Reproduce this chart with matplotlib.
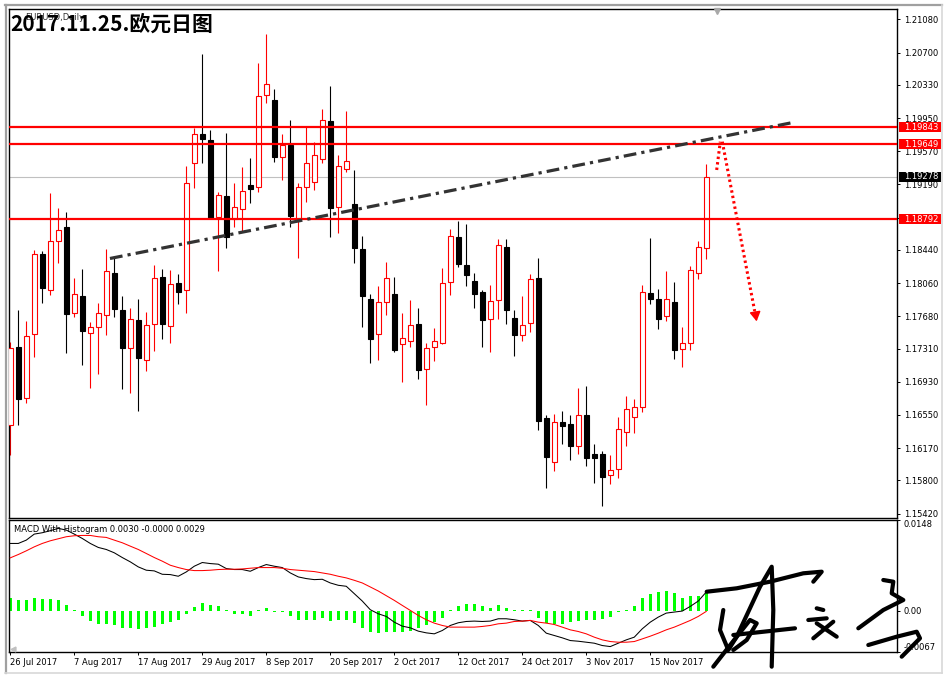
import matplotlib.pyplot as plt
import numpy as np
from matplotlib.lines import Line2D
from matplotlib.patches import Rectangle

# --- 1. 数据 ---

date_labels = ['26 Jul 2017', '7 Aug 2017', '17 Aug 2017', '29 Aug 2017', '8 Sep 2017',
               '20 Sep 2017', '2 Oct 2017', '12 Oct 2017', '24 Oct 2017', '3 Nov 2017',
               '15 Nov 2017']
date_pos = [0, 8, 16, 24, 32, 40, 48, 56, 64, 72, 80]

opens = [1.16435, 1.17325, 1.16740, 1.17477, 1.18390, 1.17978, 1.18542, 1.18703, 1.17714, 1.17912,
         1.17485, 1.17554, 1.17691, 1.18172, 1.17752, 1.17313, 1.17637, 1.17176, 1.17588, 1.18130,
         1.17565, 1.18058, 1.17981, 1.19432, 1.19765, 1.19699, 1.18814, 1.19058, 1.18791, 1.18906,
         1.19184, 1.19158, 1.20211, 1.20158, 1.19501, 1.19642, 1.18791, 1.19158, 1.19222, 1.19478,
         1.19917, 1.18928, 1.19364, 1.18966, 1.18451, 1.17878, 1.17473, 1.17840, 1.17935, 1.17359,
         1.17400, 1.17592, 1.17080, 1.17332, 1.17374, 1.18069, 1.18585, 1.18267, 1.18084, 1.17955,
         1.17645, 1.17863, 1.18470, 1.17657, 1.17462, 1.17600, 1.18119, 1.16511, 1.16014, 1.16466,
         1.16446, 1.16198, 1.16546, 1.16102, 1.16102, 1.15858, 1.15934, 1.16358, 1.16530, 1.16644,
         1.17947, 1.17878, 1.17687, 1.17844, 1.17309, 1.17371, 1.18172, 1.18466]
highs = [1.17389, 1.17752, 1.17626, 1.18439, 1.18428, 1.19092, 1.18917, 1.18875, 1.18115, 1.18222,
         1.17618, 1.17829, 1.18447, 1.18363, 1.17912, 1.17775, 1.17875, 1.17726, 1.18264, 1.18222,
         1.18210, 1.18161, 1.19405, 1.19833, 1.20684, 1.19814, 1.19107, 1.19776, 1.19203, 1.19387,
         1.19490, 1.20578, 1.20914, 1.20284, 1.19765, 1.19928, 1.19203, 1.19860, 1.19673, 1.20051,
         1.20318, 1.19528, 1.20032, 1.19356, 1.18600, 1.17935, 1.18027, 1.18298, 1.18130, 1.17718,
         1.17867, 1.17775, 1.17374, 1.17546, 1.18233, 1.18680, 1.18775, 1.18737, 1.18176, 1.17981,
         1.18038, 1.18565, 1.18565, 1.17752, 1.17912, 1.18164, 1.18348, 1.16549, 1.16561, 1.16595,
         1.16549, 1.16859, 1.16881, 1.16217, 1.16137, 1.16091, 1.16530, 1.16767, 1.16733, 1.18038,
         1.18573, 1.17993, 1.18199, 1.18073, 1.17557, 1.18256, 1.18542, 1.19424]
lows = [1.16091, 1.16435, 1.16690, 1.17210, 1.17829, 1.17920, 1.18287, 1.17256, 1.17675, 1.17122,
        1.16862, 1.17015, 1.17462, 1.17675, 1.16847, 1.16798, 1.16598, 1.17057, 1.17286, 1.17423,
        1.17377, 1.17817, 1.17714, 1.19146, 1.19439, 1.18791, 1.18202, 1.18466, 1.18706, 1.18660,
        1.18981, 1.19107, 1.20127, 1.19451, 1.19241, 1.18706, 1.18351, 1.18993, 1.19127, 1.19432,
        1.18592, 1.18637, 1.19336, 1.18294, 1.17554, 1.17148, 1.17179, 1.17698, 1.17271, 1.16931,
        1.17332, 1.16962, 1.16664, 1.17171, 1.17363, 1.17924, 1.18248, 1.18027, 1.17775, 1.17332,
        1.17271, 1.17652, 1.17592, 1.17225, 1.17400, 1.17503, 1.16377, 1.15716, 1.15911, 1.16217,
        1.16034, 1.16102, 1.15965, 1.15774, 1.15510, 1.15759, 1.15831, 1.16198, 1.16346, 1.16587,
        1.17821, 1.17534, 1.17629, 1.17194, 1.17103, 1.17294, 1.18107, 1.18336]
closes = [1.17313, 1.16729, 1.17454, 1.18390, 1.18000, 1.18542, 1.18665, 1.17703, 1.17932, 1.17515,
          1.17557, 1.17714, 1.18195, 1.17767, 1.17320, 1.17645, 1.17206, 1.17580, 1.18115, 1.17595,
          1.18046, 1.17962, 1.19203, 1.19765, 1.19707, 1.18802, 1.19069, 1.18592, 1.18928, 1.19112,
          1.19141, 1.20200, 1.20337, 1.19508, 1.19642, 1.18829, 1.19158, 1.19432, 1.19524, 1.19928,
          1.18924, 1.19402, 1.19455, 1.18466, 1.17916, 1.17423, 1.17840, 1.18115, 1.17294, 1.17428,
          1.17577, 1.17068, 1.17313, 1.17393, 1.18058, 1.18596, 1.18279, 1.18153, 1.17939, 1.17637,
          1.17852, 1.18493, 1.17755, 1.17469, 1.17577, 1.18104, 1.16484, 1.16072, 1.16472, 1.16427,
          1.16198, 1.16546, 1.16060, 1.16060, 1.15842, 1.15916, 1.16385, 1.16615, 1.16644, 1.17955,
          1.17881, 1.17649, 1.17875, 1.17294, 1.17374, 1.18207, 1.18470, 1.19278]

macd_line = [0.01099, 0.01099, 0.01153, 0.01251, 0.01273, 0.01306, 0.01344, 0.01316, 0.01251, 0.01180,
             0.01099, 0.01034, 0.01001, 0.00947, 0.00870, 0.00800, 0.00718, 0.00664, 0.00653, 0.00598,
             0.00593, 0.00566, 0.00636, 0.00729, 0.00789, 0.00772, 0.00762, 0.00691, 0.00675, 0.00675,
             0.00647, 0.00707, 0.00756, 0.00729, 0.00707, 0.00620, 0.00555, 0.00528, 0.00511, 0.00517,
             0.00457, 0.00419, 0.00403, 0.00283, 0.00163, 0.00022, -0.00044, -0.00087, -0.00180, -0.00245,
             -0.00272, -0.00326, -0.00354, -0.00370, -0.00316, -0.00234, -0.00190, -0.00169, -0.00163, -0.00169,
             -0.00163, -0.00125, -0.00125, -0.00141, -0.00163, -0.00152, -0.00234, -0.00359, -0.00397, -0.00435,
             -0.00479, -0.00490, -0.00506, -0.00522, -0.00560, -0.00577, -0.00522, -0.00468, -0.00424, -0.00288,
             -0.00180, -0.00098, -0.00033, -0.00016, 0.00000, 0.00076, 0.00163, 0.00310]
signal_line = [0.00865, 0.00919, 0.00979, 0.01044, 0.01099, 0.01142, 0.01175, 0.01208, 0.01224, 0.01229,
               0.01229, 0.01208, 0.01197, 0.01153, 0.01110, 0.01055, 0.01001, 0.00936, 0.00870, 0.00811,
               0.00745, 0.00707, 0.00675, 0.00658, 0.00658, 0.00664, 0.00675, 0.00680, 0.00680, 0.00685,
               0.00696, 0.00707, 0.00707, 0.00707, 0.00696, 0.00675, 0.00664, 0.00653, 0.00642, 0.00620,
               0.00598, 0.00566, 0.00539, 0.00500, 0.00457, 0.00392, 0.00326, 0.00250, 0.00174, 0.00092,
               0.00011, -0.00071, -0.00141, -0.00196, -0.00234, -0.00261, -0.00261, -0.00261, -0.00261, -0.00250,
               -0.00234, -0.00207, -0.00196, -0.00169, -0.00163, -0.00152, -0.00180, -0.00196, -0.00218, -0.00261,
               -0.00305, -0.00332, -0.00370, -0.00424, -0.00468, -0.00495, -0.00506, -0.00506, -0.00495, -0.00452,
               -0.00408, -0.00359, -0.00305, -0.00261, -0.00207, -0.00152, -0.00087, -0.00005]
macd_hist = [0.00217, 0.00174, 0.00174, 0.00207, 0.00190, 0.00190, 0.00174, 0.00092, 0.00018, -0.00087,
             -0.00163, -0.00217, -0.00217, -0.00234, -0.00272, -0.00272, -0.00288, -0.00272, -0.00261, -0.00217,
             -0.00179, -0.00152, -0.00043, 0.00065, 0.00125, 0.00092, 0.00076, 0.00018, -0.00043, -0.00043,
             -0.00087, 0.00018, 0.00044, -0.00018, -0.00018, -0.00087, -0.00141, -0.00141, -0.00152, -0.00114,
             -0.00163, -0.00152, -0.00152, -0.00196, -0.00272, -0.00343, -0.00359, -0.00343, -0.00343, -0.00343,
             -0.00316, -0.00272, -0.00234, -0.00180, -0.00109, 0.00022, 0.00076, 0.00109, 0.00109, 0.00076,
             0.00054, 0.00092, 0.00054, 0.00018, 0.00018, 0.00018, -0.00109, -0.00196, -0.00207, -0.00207,
             -0.00180, -0.00163, -0.00152, -0.00141, -0.00125, -0.00098, -0.00018, 0.00022, 0.00076, 0.00218,
             0.00283, 0.00310, 0.00326, 0.00294, 0.00218, 0.00239, 0.00239, 0.00310]

price_ticks = [1.21080, 1.20700, 1.20330, 1.19950, 1.19570, 1.19190, 1.18810, 1.18440,
               1.18060, 1.17680, 1.17310, 1.16930, 1.16550, 1.16170, 1.15800, 1.15420]
levels = [1.19843, 1.19649, 1.18792]   # 红色水平线
last_price = 1.19278
trend_start = (12.46, 1.18342)         # 趋势线 (bar index, price)
trend_end = (97.84, 1.19900)
macd_ticks = [-0.0067, 0.0, 0.0148]
macd_tick_labels = ['-0.0067', '0.00', '0.0148']

# --- 2. 画布 ---

W, H = 948, 680
plt.rcParams['font.family'] = ['DejaVu Sans']
fig = plt.figure(figsize=(W / 100, H / 100), dpi=100)
fig.patch.set_facecolor('white')

x = np.arange(len(opens))
xlim = (-0.16, 110.84)

ax = fig.add_axes([9 / W, 1 - 517.5 / H, 888 / W, 508.5 / H])
ax2 = fig.add_axes([9 / W, 1 - 652.3 / H, 888 / W, 132.3 / H])

for a in (ax, ax2):
    a.set_xlim(*xlim)
    for s in a.spines.values():
        s.set_linewidth(1.0)
        s.set_color('black')
    a.yaxis.tick_right()
    a.tick_params(axis='y', direction='out', length=2.2, width=0.7, pad=2.6,
                  labelsize=6, colors='black')

# --- 3. K线图 ---

o = np.array(opens)
c = np.array(closes)
up = c >= o
body_w = 0.56

ax.vlines(x[up], np.array(lows)[up], np.array(highs)[up], color='red', lw=0.8, zorder=2)
ax.vlines(x[~up], np.array(lows)[~up], np.array(highs)[~up], color='black', lw=0.8, zorder=2)
ax.bar(x[up], (c - o)[up], bottom=o[up], width=body_w, facecolor='white',
       edgecolor='red', linewidth=0.8, zorder=3)
ax.bar(x[~up], (o - c)[~up], bottom=c[~up], width=body_w, facecolor='black',
       edgecolor='black', linewidth=0.8, zorder=3)

ax.set_ylim(1.15375, 1.21200)
ax.set_xticks([])
ax.set_yticks(price_ticks)
ax.set_yticklabels([f'{v:.5f}' for v in price_ticks])

# 当前价格线
ax.axhline(last_price, color='#c0c0c0', lw=0.8, zorder=1)

# 支撑/阻力线
for lv in levels:
    ax.axhline(lv, color='red', lw=1.6, zorder=4)

# 趋势线
ax.plot([trend_start[0], trend_end[0]], [trend_start[1], trend_end[1]],
        color='#333333', lw=2.3, dashes=(4, 1.6, 1, 1.6), zorder=5, clip_on=False)

# 红色虚线箭头
ax.plot([88.3, 88.75], [1.19356, 1.19680], color='red', lw=2.2,
        linestyle=(0, (0.8, 1.0)), zorder=6)
ax.plot([89.0, 93.05], [1.19680, 1.17740], color='red', lw=2.2,
        linestyle=(0, (0.8, 1.0)), zorder=6)
ax.annotate('', xy=(93.35, 1.17590), xytext=(93.05, 1.17760),
            arrowprops=dict(arrowstyle='-|>,head_length=0.55,head_width=0.32',
                            color='red', lw=1.2), zorder=6)

# 右侧价格标签
box_h = 10 / 8730
ytr = ax.get_yaxis_transform()
for lv, col in [(levels[0], 'red'), (levels[1], 'red'), (levels[2], 'red'), (last_price, 'black')]:
    ax.add_patch(Rectangle((1.0023, lv - box_h / 2), 0.0472, box_h, transform=ytr,
                           facecolor=col, edgecolor='none', clip_on=False, zorder=8))
    ax.text(1.0079, lv, f'{lv:.5f}', transform=ytr, color='white', fontsize=6,
            ha='left', va='center', zorder=9, clip_on=False)

# --- 4. MACD ---

ax2.bar(x, macd_hist, width=0.42, color='#00ff00', zorder=2)
ax2.plot(x, macd_line, color='black', lw=0.75, zorder=3)
ax2.plot(x, signal_line, color='red', lw=0.75, zorder=3)
ax2.set_ylim(-0.0067, 0.0148)
ax2.set_yticks(macd_ticks)
ax2.set_yticklabels(macd_tick_labels)
for lab, va in zip(ax2.get_yticklabels(), ['bottom', 'center', 'top']):
    lab.set_va(va)

ax2.set_xticks(date_pos)
ax2.set_xticklabels(date_labels, ha='left')
ax2.tick_params(axis='x', direction='out', length=2.2, width=0.7, pad=2.2,
                labelsize=6, colors='black')

fig.text(14 / W, 1 - 530 / H, 'MACD With Histogram 0.0030 -0.0000 0.0029',
         fontsize=6, va='center', ha='left')

# --- 5. 标题和窗口边框 ---

fig.text(25 / W, 1 - 17.5 / H, 'EURUSD,Daily', fontsize=6, color='#303030',
         va='center', ha='left')
fig.text(10 / W, 1 - 24 / H, '2017.11.25.欧元日图', fontsize=15, fontweight='bold',
         family=['Noto Sans CJK SC', 'DejaVu Sans'], va='center', ha='left')


def px_line(xs, ys, **kw):
    fig.add_artist(Line2D([v / W for v in xs], [1 - v / H for v in ys],
                          transform=fig.transFigure, **kw))


px_line([6, 6], [5, 673], color='#a0a0a0', lw=1.6)
px_line([5, 942], [5, 5], color='#a0a0a0', lw=1.6)
px_line([942, 942], [5, 673], color='#d8d8d8', lw=1.2)
px_line([5, 942], [673, 673], color='#d8d8d8', lw=1.2)
px_line([717], [11], color='#a8a8a8', marker='v', markersize=4.5, lw=0)
px_line([12.5], [649], color='#c0c0c0', marker='<', markersize=3.5, lw=0)

# 签名 (手写)
sig = dict(color='black', lw=3.0, solid_capstyle='round', solid_joinstyle='round', zorder=20)
px_line([706.7, 736.7, 770, 803.3, 821.7, 813.3], [591.7, 588.3, 581.7, 573.3, 571.7, 581.7], **sig)
px_line([713.3, 736.7, 760, 771.7, 773.3, 771.7], [666.7, 636.7, 586.7, 566.7, 610, 666.7], **sig)
px_line([723.3, 720, 728.3, 736.7, 750, 756.7, 746.7, 733.3],
        [610, 630, 650, 636.7, 620, 623.3, 640, 650], **sig)
px_line([733.3, 795], [635, 628.3], **sig)
px_line([816.7, 823.3], [608.3, 610], **sig)
px_line([808.3, 826.7], [620, 618.3], **sig)
px_line([816.7, 836.7], [623.3, 636.7], **sig)
px_line([833.3, 813.3], [621.7, 638.3], **sig)
px_line([883.3, 893.3, 891.7, 903.3, 883.3, 858.3], [580, 581.7, 593.3, 600, 610, 628.3], **sig)
px_line([868.3, 896.7, 916.7, 920, 901.7], [645, 636.7, 631.7, 638.3, 656.7], **sig)

plt.savefig('out.png', dpi=100)
